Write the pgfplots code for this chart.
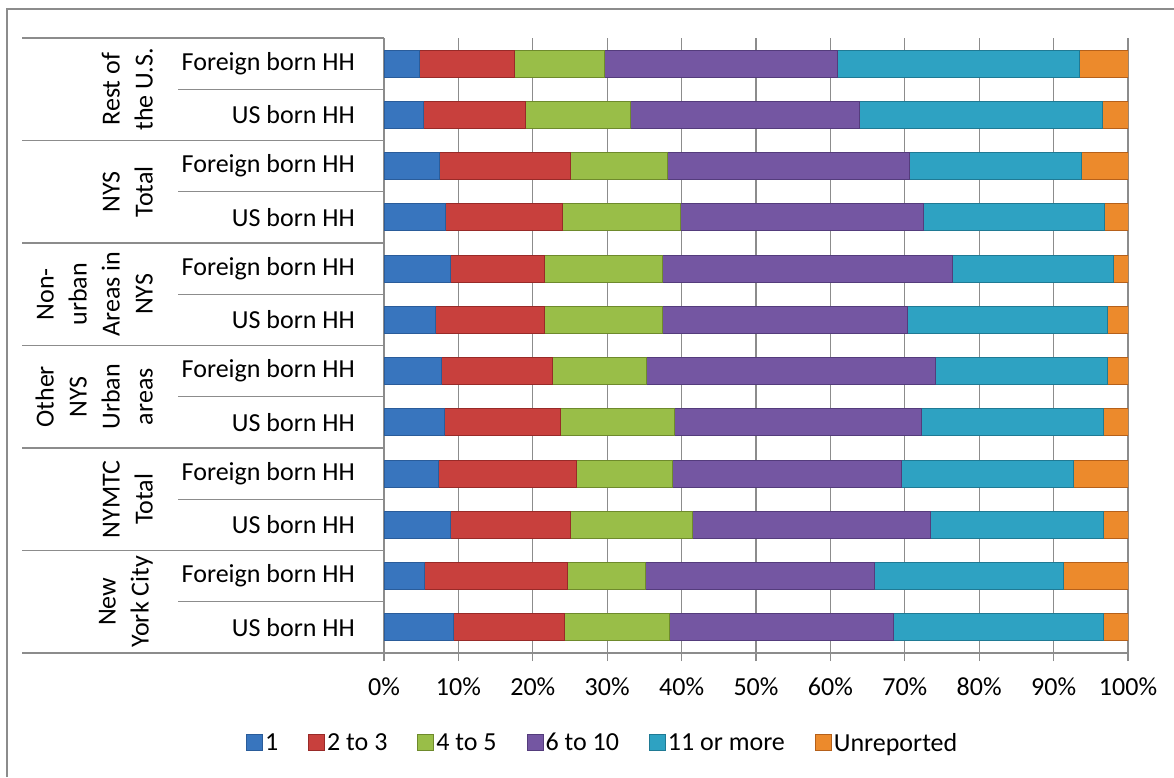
\documentclass[border=0pt]{standalone}
\usepackage{pgfplots}
\pgfplotsset{compat=1.18}
\usepackage{pgfplotstable}
\usepackage{fontspec}
\setmainfont{Carlito}

% household size shares (percent), rows bottom to top
\pgfplotstableread{
y  one  two  four six  eleven unrep
1  9.3  14.9 14.1 30.2 28.2   3.3
2  5.5  19.1 10.6 30.7 25.4   8.7
3  8.9  16.2 16.4 31.9 23.3   3.3
4  7.3  18.6 12.9 30.7 23.2   7.3
5  8.1  15.6 15.3 33.3 24.4   3.3
6  7.7  15.0 12.6 38.8 23.2   2.7
7  6.9  14.6 15.9 33.0 26.8   2.8
8  8.9  12.7 15.8 39.0 21.7   1.9
9  8.2  15.8 15.8 32.7 24.3   3.2
10 7.4  17.7 13.0 32.5 23.2   6.2
11 5.3  13.7 14.1 30.8 32.6   3.5
12 4.8  12.8 12.0 31.3 32.6   6.5
}\sizes

\definecolor{gridgray}{HTML}{8C8C8C}
\definecolor{bm}{HTML}{3875BE}\definecolor{bd}{HTML}{2A5C9A}
\definecolor{rm}{HTML}{C8403D}\definecolor{rd}{HTML}{982A28}
\definecolor{gm}{HTML}{99BE48}\definecolor{gd}{HTML}{6E8A2C}
\definecolor{pm}{HTML}{7456A2}\definecolor{pd}{HTML}{543C7C}
\definecolor{cm}{HTML}{2EA2C2}\definecolor{cd}{HTML}{1F7A94}
\definecolor{om}{HTML}{EC8A2C}\definecolor{od}{HTML}{B5601A}

\newcommand{\lbl}{\fontsize{26}{33}\selectfont}

\begin{document}
\begin{tikzpicture}
\useasboundingbox (0pt,0pt) rectangle (1174pt,777pt);
\draw[gridgray, line width=1.2pt] (7pt,0pt) -- (7pt,768pt) -- (1174pt,768pt);
\begin{axis}[
  at={(384pt,124pt)}, anchor=south west,
  scale only axis, width=744pt, height=615pt,
  xbar stacked, bar width=27pt,
  xmin=0, xmax=100, ymin=0.5, ymax=12.5,
  axis x line*=bottom, axis y line*=left,
  axis line style={draw=gridgray, line width=1.3pt},
  xtick={0,10,...,100},
  xticklabels={0\%,10\%,20\%,30\%,40\%,50\%,60\%,70\%,80\%,90\%,100\%},
  xmajorgrids, grid style={draw=gridgray, line width=1.3pt},
  tick align=outside, major tick length=8pt,
  xtick style={draw=gridgray, line width=1.3pt},
  ytick={1,...,12},
  yticklabels={US born HH,Foreign born HH,US born HH,Foreign born HH,US born HH,Foreign born HH,
               US born HH,Foreign born HH,US born HH,Foreign born HH,US born HH,Foreign born HH},
  ytick style={draw=none},
  yticklabel style={font=\lbl, anchor=east, inner sep=0pt, xshift=-21pt},
  xticklabel style={font=\lbl, anchor=center, inner sep=0pt, yshift=-26pt},
  /pgf/number format/assume math mode=true,
  legend style={at={(0.294,-0.146)}, anchor=center, draw=none, fill=none,
    legend columns=6, font=\lbl,
    /tikz/every even column/.append style={column sep=28pt}},
  legend image code/.code={\filldraw[#1] (0pt,-8pt) rectangle (16pt,8pt);},
  every axis plot/.append style={line width=0.9pt},
]
\addplot[draw=bd, fill=bm] table[x=one, y=y]{\sizes};
\addplot[draw=rd, fill=rm] table[x=two, y=y]{\sizes};
\addplot[draw=gd, fill=gm] table[x=four, y=y]{\sizes};
\addplot[draw=pd, fill=pm] table[x=six, y=y]{\sizes};
\addplot[draw=cd, fill=cm] table[x=eleven, y=y]{\sizes};
\addplot[draw=od, fill=om] table[x=unrep, y=y]{\sizes};
\legend{1,2 to 3,4 to 5,6 to 10,11 or more,Unreported}
\end{axis}
% ruled category table left of the bars
\foreach \k in {0,2,...,12}{
  \pgfmathsetmacro\yy{124+\k*51.25}
  \draw[gridgray, line width=1.3pt] (22pt,\yy pt) -- (384pt,\yy pt);
}
\foreach \k in {1,3,...,11}{
  \pgfmathsetmacro\yy{124+\k*51.25}
  \draw[gridgray, line width=1.3pt] (178pt,\yy pt) -- (384pt,\yy pt);
}
\node[rotate=90, anchor=south, align=center, font=\lbl, inner sep=0pt] at (153pt,175.25pt) {New\\York City};
\node[rotate=90, anchor=south, align=center, font=\lbl, inner sep=0pt] at (153pt,277.75pt) {NYMTC\\Total};
\node[rotate=90, anchor=south, align=center, font=\lbl, inner sep=0pt] at (153pt,380.25pt) {Other\\NYS\\Urban\\areas};
\node[rotate=90, anchor=south, align=center, font=\lbl, inner sep=0pt] at (153pt,482.75pt) {Non-\\urban\\Areas in\\NYS};
\node[rotate=90, anchor=south, align=center, font=\lbl, inner sep=0pt] at (153pt,585.25pt) {NYS\\Total};
\node[rotate=90, anchor=south, align=center, font=\lbl, inner sep=0pt] at (153pt,687.75pt) {Rest of\\the U.S.};
\end{tikzpicture}
\end{document}
